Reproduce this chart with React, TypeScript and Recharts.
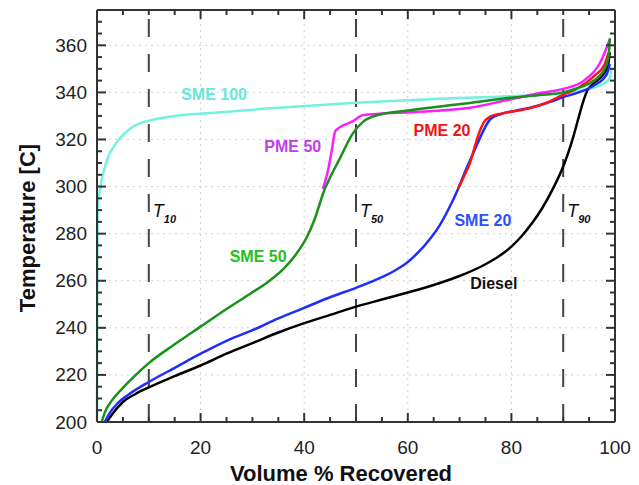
import React from 'react';
import { LineChart, Line, XAxis, YAxis, ReferenceLine, ReferenceDot } from 'recharts';

// volume % recovered vs temperature [C]
const diesel = [[1.9,200],[3,203.5],[5,208.5],[7.5,212],[10,214.7],[15,219.5],[20,224],[25,229],[30,233.5],[35,238],[40,242],[45,245.5],[50,249],[55,252],[60,255],[65,258.2],[70,262],[75,267],[78,271],[80,274.5],[82,279],[84,284.5],[86,291],[88,299],[90,308.5],[91,314.5],[92,321.5],[93,329.5],[94,337],[94.7,341],[96,344],[97.5,347],[98.6,351],[99,357]];
const sme20 = [[1.5,200],[2.5,204],[4,208],[6,211.5],[10,217],[15,223],[20,229],[25,234.5],[30,239],[35,244],[40,248.5],[45,253],[50,257],[55,261.5],[58,265],[60,268],[62,272],[64,277],[66,283],[68,291],[69.7,299],[71,306],[72.6,314],[74,321],[75,325.5],[76,328.8],[78,330.8],[81,332.3],[84,333.7],[87.5,336],[90,338],[93,340],[96,343],[98.4,347.7],[99,352]];
const pme20 = [[69.7,299],[71,305],[72,310],[73,317.5],[73.8,323],[74.6,327],[75.8,329.6],[78,331],[83,333],[86.8,335.6],[90,339],[93,342],[96,347],[98,352],[98.8,357]];
const sme50 = [[0.9,200],[1.5,204],[3,209.5],[5,214.5],[7.5,220],[10,225],[15,233],[20,240.5],[25,248],[29.5,254.4],[33,259.5],[36,265],[38.5,271.5],[40.5,278.5],[42,286],[43,292.7],[43.8,298],[44.6,302],[46.9,312],[49.4,322.6],[51.4,327.6],[54.6,330.6],[60,332.3],[64.3,333.5],[72,335.5],[79.7,337.7],[86,339],[90,340],[93,342],[95.2,344],[98,350],[98.8,356],[99,363]];
const pme50 = [[43.6,299],[44.5,306],[45.3,315],[46,323.6],[49.4,327.8],[51.4,330.4],[55,331],[64.3,332],[72,333.5],[79.7,337],[85,339.5],[90,341.5],[94,345],[97.1,352.5],[99,362.5]];
const sme100 = [[0,200],[0.1,290],[0.6,299],[1.9,311],[3.9,319],[7,325.5],[10,328],[15,330],[24,331.6],[35,333.5],[50,335.6],[65,337.2],[80,338.4],[90,339.6],[95,341.5],[98,344],[99,346],[99.3,350]];

const xTicks = [0,5,10,15,20,25,30,35,40,45,50,55,60,65,70,75,80,85,90,95,100];
const xLabels = [0,20,40,60,80,100];
const yTicks = [200,205,210,215,220,225,230,235,240,245,250,255,260,265,270,275,280,285,290,295,300,305,310,315,320,325,330,335,340,345,350,355,360,365,370,375];
const yLabels = [200,220,240,260,280,300,320,340,360];
const gridX = [20,40,60,80];
const gridY = [220,240,260,280,300,320,340,360];
const markers = ['10','50','90'];

const series = [
  { name: 'SME 100', data: sme100, color: '#72f0e0' },
  { name: 'Diesel', data: diesel, color: '#000000' },
  { name: 'SME 20', data: sme20, color: '#1f2cff' },
  { name: 'PME 20', data: pme20, color: '#ff1414' },
  { name: 'PME 50', data: pme50, color: '#ff1cff' },
  { name: 'SME 50', data: sme50, color: '#17921a' },
];

const curveLabels = [
  { text: 'SME 100', x: 22.6, y: 338.9, color: '#66e8da' },
  { text: 'PME 50', x: 37.8, y: 317.2, color: '#c03ee8' },
  { text: 'PME 20', x: 66.6, y: 324, color: '#f01414' },
  { text: 'SME 20', x: 74.5, y: 285.4, color: '#2a50ff' },
  { text: 'SME 50', x: 31.1, y: 270.5, color: '#22c022' },
  { text: 'Diesel', x: 76.6, y: 258.7, color: '#111111' },
];

const FONT = '"Liberation Sans", Arial, sans-serif';
const INK = '#333';
const W = 625;
const H = 477;
const M = { top: 2, right: 18, bottom: 0, left: 0 };
const X_AXIS_H = 63;
const Y_AXIS_W = 89;
const PLOT_W = W - M.left - M.right - Y_AXIS_W;
const PLOT_H = H - M.top - M.bottom - X_AXIS_H;

const toPts = (a: number[][]) => a.map(([v, t]) => ({ v, t }));

// one tick on the near axis and its twin on the opposite side, both pointing inward
function XTick(p: any) {
  const major = xLabels.includes(p.payload.value);
  const len = major ? 9 : 5;
  const top = p.y - PLOT_H;
  return (
    <g>
      <line x1={p.x} y1={p.y} x2={p.x} y2={p.y - len} stroke={INK} strokeWidth={2} />
      <line x1={p.x} y1={top} x2={p.x} y2={top + len} stroke={INK} strokeWidth={2} />
      {major && (
        <text x={p.x} y={p.y + 25} textAnchor="middle" dominantBaseline="central" fontSize={19} fill="#222" fontFamily={FONT}>
          {p.payload.value}
        </text>
      )}
    </g>
  );
}

function YTick(p: any) {
  const major = yLabels.includes(p.payload.value);
  const len = major ? 9 : 5;
  const right = p.x + PLOT_W;
  return (
    <g>
      <line x1={p.x} y1={p.y} x2={p.x + len} y2={p.y} stroke={INK} strokeWidth={2} />
      <line x1={right} y1={p.y} x2={right - len} y2={p.y} stroke={INK} strokeWidth={2} />
      {major && (
        <text x={p.x - 10} y={p.y} textAnchor="end" dominantBaseline="central" fontSize={19} fill="#222" fontFamily={FONT}>
          {p.payload.value}
        </text>
      )}
    </g>
  );
}

export default function App() {
  return (
    <div style={{ width: W, height: H, fontFamily: FONT }}>
      <LineChart width={W} height={H} margin={M}>
        <XAxis
          xAxisId="b" type="number" dataKey="v" domain={[0, 100]}
          ticks={xTicks} interval={0} tickSize={0} tickMargin={0} height={X_AXIS_H}
          axisLine={{ stroke: INK, strokeWidth: 2 }} tickLine={false}
          tick={(p: any) => <XTick {...p} />}
          label={{
            content: (lp: any) => (
              <text x={lp.viewBox.x + lp.viewBox.width / 2 - 15} y={lp.viewBox.y + 59} textAnchor="middle" fontSize={22} fontWeight="bold" fill="#111" fontFamily={FONT}>
                Volume % Recovered
              </text>
            ),
          }}
        />
        <YAxis
          yAxisId="l" type="number" dataKey="t" domain={[200, 375]}
          ticks={yTicks} interval={0} tickSize={0} tickMargin={0} width={Y_AXIS_W}
          axisLine={{ stroke: INK, strokeWidth: 2 }} tickLine={false}
          tick={(p: any) => <YTick {...p} />}
          label={{
            content: (lp: any) => {
              const cx = 19;
              const cy = lp.viewBox.y + lp.viewBox.height / 2 + 12;
              return (
                <text x={cx} y={cy} transform={`rotate(-90 ${cx} ${cy})`} textAnchor="middle" dominantBaseline="central" fontSize={22} fontWeight="bold" fill="#111" fontFamily={FONT}>
                  Temperature [C]
                </text>
              );
            },
          }}
        />

        {gridX.map((g) => (
          <ReferenceLine key={'gx' + g} xAxisId="b" yAxisId="l" x={g} stroke="#cfcfcf" strokeDasharray="2 4" />
        ))}
        {gridY.map((g) => (
          <ReferenceLine key={'gy' + g} xAxisId="b" yAxisId="l" y={g} stroke="#cfcfcf" strokeDasharray="2 4" />
        ))}
        {/* frame: top and right edges of the plot */}
        <ReferenceLine xAxisId="b" yAxisId="l" y={375} stroke={INK} strokeWidth={2} />
        <ReferenceLine xAxisId="b" yAxisId="l" x={100} stroke={INK} strokeWidth={2} />
        {markers.map((m) => (
          <ReferenceLine key={'m' + m} xAxisId="b" yAxisId="l" x={Number(m)} stroke="#444" strokeWidth={2} strokeDasharray="18 17" />
        ))}

        {series.map((s) => (
          <Line
            key={s.name} xAxisId="b" yAxisId="l" data={toPts(s.data)} dataKey="t" type="monotone"
            stroke={s.color} strokeWidth={2.5} dot={false} activeDot={false} isAnimationActive={false}
          />
        ))}

        {markers.map((m) => (
          <ReferenceDot
            key={'tl' + m} xAxisId="b" yAxisId="l" x={Number(m)} y={287} r={0}
            shape={(p: any) => (
              <text x={p.cx + 4} y={p.cy} fontFamily={FONT} fill="#111" fontStyle="italic">
                <tspan fontSize={18}>T</tspan>
                <tspan fontSize={11} fontWeight="bold" dy={6}>{m}</tspan>
              </text>
            )}
          />
        ))}
        {curveLabels.map((c) => (
          <ReferenceDot
            key={c.text} xAxisId="b" yAxisId="l" x={c.x} y={c.y} r={0}
            shape={(p: any) => (
              <text x={p.cx} y={p.cy} textAnchor="middle" dominantBaseline="central" fontSize={16} fontWeight="bold" fill={c.color} fontFamily={FONT}>
                {c.text}
              </text>
            )}
          />
        ))}
      </LineChart>
    </div>
  );
}
